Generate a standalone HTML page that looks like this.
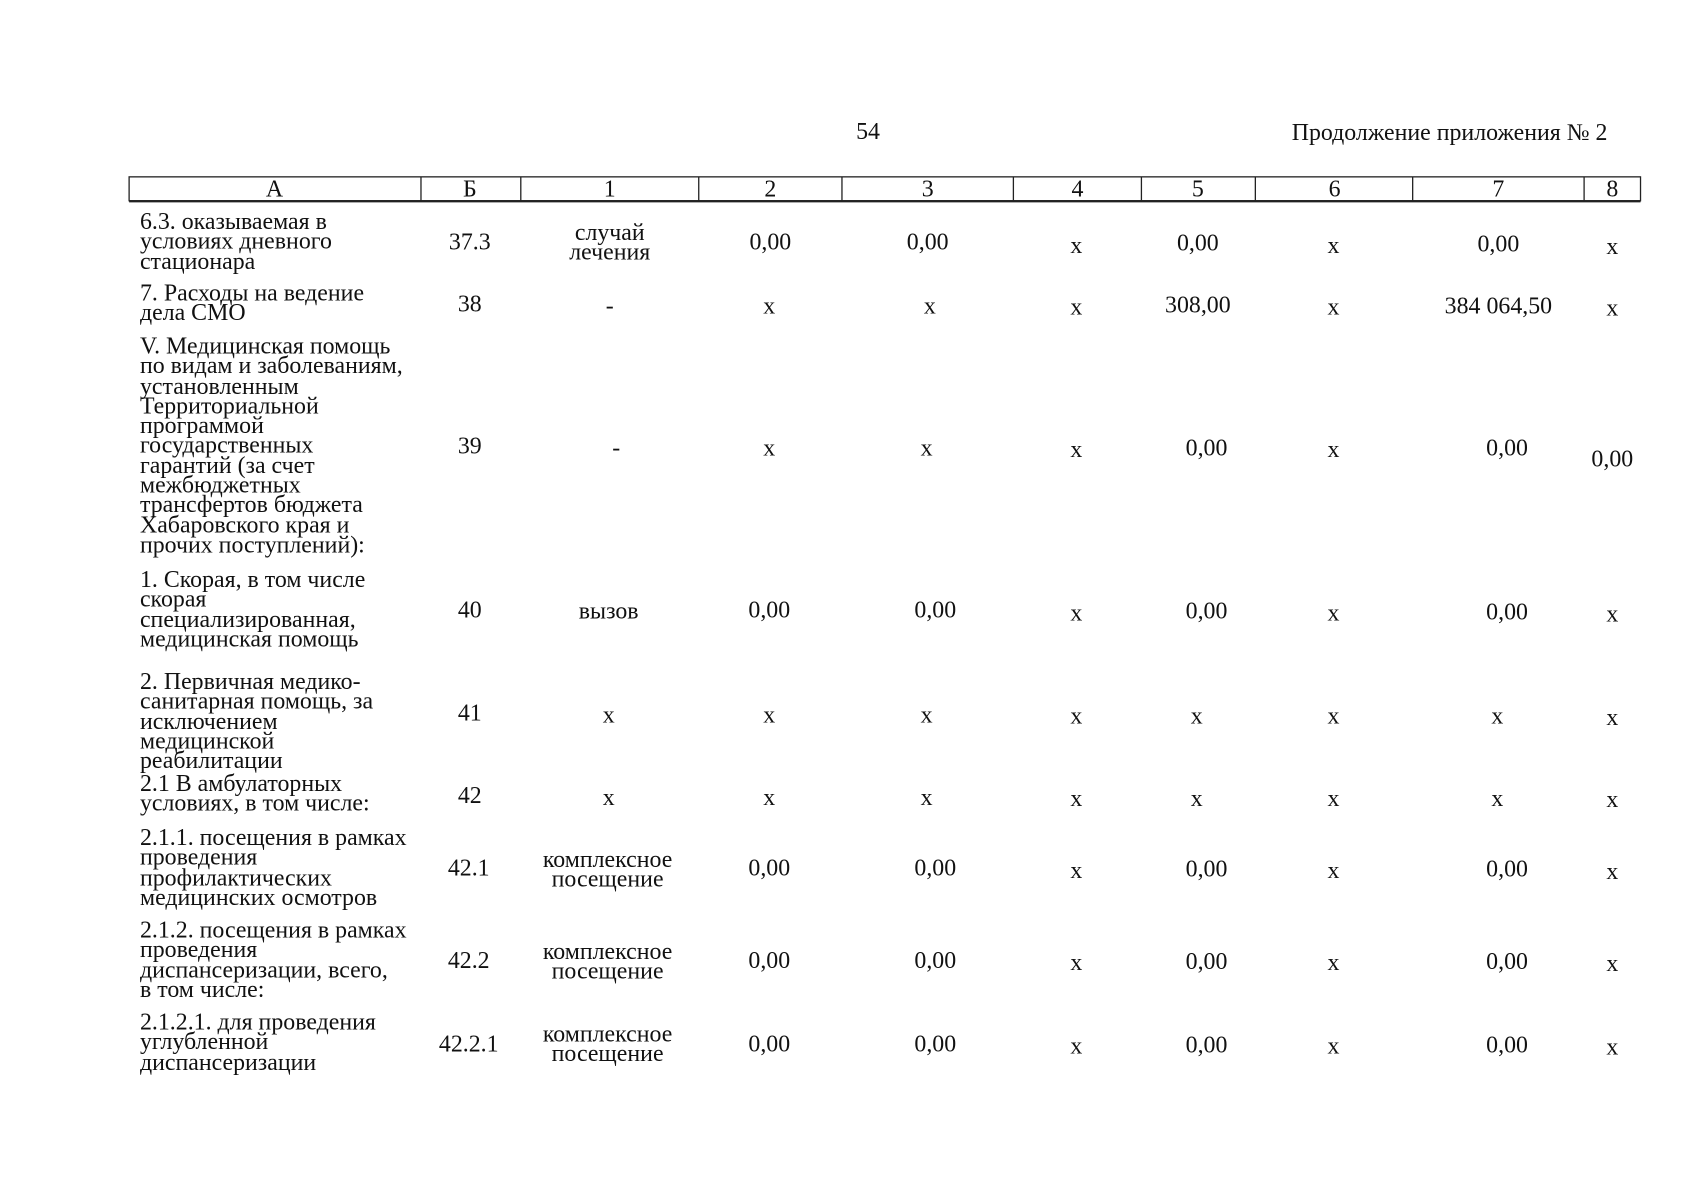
<!DOCTYPE html>
<html><head><meta charset="utf-8"><style>
html,body{margin:0;padding:0;background:#fff;width:1701px;height:1200px;overflow:hidden}
#w{position:absolute;left:0;top:0;width:1565px;height:1104px;transform:scale(1.085);transform-origin:0 0;font-family:"Liberation Serif",serif;font-size:22px;color:#111}
.c{position:absolute;white-space:nowrap;transform:translate(-50%,-50%);line-height:1}
.l{position:absolute;white-space:nowrap;left:129px;line-height:18.3px}
.cc{position:absolute;white-space:nowrap;transform:translateX(-50%);line-height:18.3px;text-align:center}
</style></head><body><div id="w">
<div class="c" style="left:800px;top:121px">54</div>
<div class="c" style="left:1336px;top:122px">Продолжение приложения № 2</div>
<svg style="position:absolute;left:0;top:0" width="1565" height="1104">
<g stroke="#222" stroke-width="1.2" fill="none">
<rect x="119" y="163" width="1393" height="22"/>
<line x1="119" y1="185.5" x2="1512" y2="185.5" stroke-width="2"/>
<line x1="388" y1="163" x2="388" y2="185"/><line x1="480" y1="163" x2="480" y2="185"/>
<line x1="644" y1="163" x2="644" y2="185"/><line x1="776" y1="163" x2="776" y2="185"/>
<line x1="934" y1="163" x2="934" y2="185"/><line x1="1052" y1="163" x2="1052" y2="185"/>
<line x1="1157" y1="163" x2="1157" y2="185"/><line x1="1302" y1="163" x2="1302" y2="185"/>
<line x1="1460" y1="163" x2="1460" y2="185"/>
</g></svg>
<div class="c" style="left:253px;top:174px">А</div>
<div class="c" style="left:433px;top:174px">Б</div>
<div class="c" style="left:562px;top:174px">1</div>
<div class="c" style="left:710px;top:174px">2</div>
<div class="c" style="left:855px;top:174px">3</div>
<div class="c" style="left:993px;top:174px">4</div>
<div class="c" style="left:1104px;top:174px">5</div>
<div class="c" style="left:1230px;top:174px">6</div>
<div class="c" style="left:1381px;top:174px">7</div>
<div class="c" style="left:1486px;top:174px">8</div>

<div class="l" style="top:195px">6.3. оказываемая в<br>условиях дневного<br>стационара</div>
<div class="c" style="left:433px;top:223px">37.3</div>
<div class="cc" style="left:562px;top:205px">случай<br>лечения</div>
<div class="c" style="left:710px;top:223px">0,00</div><div class="c" style="left:855px;top:223px">0,00</div>
<div class="c" style="left:992px;top:226px">х</div><div class="c" style="left:1104px;top:224px">0,00</div>
<div class="c" style="left:1229px;top:226px">х</div><div class="c" style="left:1381px;top:225px">0,00</div><div class="c" style="left:1486px;top:227px">х</div>

<div class="l" style="top:261px">7. Расходы на ведение<br>дела СМО</div>
<div class="c" style="left:433px;top:280px">38</div><div class="c" style="left:562px;top:282px">-</div>
<div class="c" style="left:709px;top:282px">х</div><div class="c" style="left:857px;top:282px">х</div><div class="c" style="left:992px;top:283px">х</div>
<div class="c" style="left:1104px;top:281px">308,00</div><div class="c" style="left:1229px;top:283px">х</div>
<div class="c" style="left:1381px;top:282px">384 064,50</div><div class="c" style="left:1486px;top:284px">х</div>

<div class="l" style="top:310px">V. Медицинская помощь<br>по видам и заболеваниям,<br>установленным<br>Территориальной<br>программой<br>государственных<br>гарантий (за счет<br>межбюджетных<br>трансфертов бюджета<br>Хабаровского края и<br>прочих поступлений):</div>
<div class="c" style="left:433px;top:411px">39</div><div class="c" style="left:568px;top:413px">-</div>
<div class="c" style="left:709px;top:413px">х</div><div class="c" style="left:854px;top:413px">х</div><div class="c" style="left:992px;top:414px">х</div>
<div class="c" style="left:1112px;top:413px">0,00</div><div class="c" style="left:1229px;top:414px">х</div>
<div class="c" style="left:1389px;top:413px">0,00</div><div class="c" style="left:1486px;top:423px">0,00</div>

<div class="l" style="top:525px">1. Скорая, в том числе<br>скорая<br>специализированная,<br>медицинская помощь</div>
<div class="c" style="left:433px;top:562px">40</div><div class="c" style="left:561px;top:563px">вызов</div>
<div class="c" style="left:709px;top:562px">0,00</div><div class="c" style="left:862px;top:562px">0,00</div><div class="c" style="left:992px;top:565px">х</div>
<div class="c" style="left:1112px;top:563px">0,00</div><div class="c" style="left:1229px;top:565px">х</div>
<div class="c" style="left:1389px;top:564px">0,00</div><div class="c" style="left:1486px;top:566px">х</div>

<div class="l" style="top:619px">2. Первичная медико-<br>санитарная помощь, за<br>исключением<br>медицинской<br>реабилитации</div>
<div class="c" style="left:433px;top:657px">41</div><div class="c" style="left:561px;top:659px">х</div>
<div class="c" style="left:709px;top:659px">х</div><div class="c" style="left:854px;top:659px">х</div><div class="c" style="left:992px;top:660px">х</div>
<div class="c" style="left:1103px;top:660px">х</div><div class="c" style="left:1229px;top:660px">х</div>
<div class="c" style="left:1380px;top:660px">х</div><div class="c" style="left:1486px;top:661px">х</div>

<div class="l" style="top:713px">2.1 В амбулаторных<br>условиях, в том числе:</div>
<div class="c" style="left:433px;top:733px">42</div><div class="c" style="left:561px;top:735px">х</div>
<div class="c" style="left:709px;top:735px">х</div><div class="c" style="left:854px;top:735px">х</div><div class="c" style="left:992px;top:736px">х</div>
<div class="c" style="left:1103px;top:736px">х</div><div class="c" style="left:1229px;top:736px">х</div>
<div class="c" style="left:1380px;top:736px">х</div><div class="c" style="left:1486px;top:737px">х</div>

<div class="l" style="top:763px">2.1.1. посещения в рамках<br>проведения<br>профилактических<br>медицинских осмотров</div>
<div class="c" style="left:432px;top:800px">42.1</div>
<div class="cc" style="left:560px;top:783px">комплексное<br>посещение</div>
<div class="c" style="left:709px;top:800px">0,00</div><div class="c" style="left:862px;top:800px">0,00</div><div class="c" style="left:992px;top:802px">х</div>
<div class="c" style="left:1112px;top:801px">0,00</div><div class="c" style="left:1229px;top:802px">х</div>
<div class="c" style="left:1389px;top:801px">0,00</div><div class="c" style="left:1486px;top:803px">х</div>

<div class="l" style="top:848px">2.1.2. посещения в рамках<br>проведения<br>диспансеризации, всего,<br>в том числе:</div>
<div class="c" style="left:432px;top:885px">42.2</div>
<div class="cc" style="left:560px;top:868px">комплексное<br>посещение</div>
<div class="c" style="left:709px;top:885px">0,00</div><div class="c" style="left:862px;top:885px">0,00</div><div class="c" style="left:992px;top:887px">х</div>
<div class="c" style="left:1112px;top:886px">0,00</div><div class="c" style="left:1229px;top:887px">х</div>
<div class="c" style="left:1389px;top:886px">0,00</div><div class="c" style="left:1486px;top:888px">х</div>

<div class="l" style="top:933px">2.1.2.1. для проведения<br>углубленной<br>диспансеризации</div>
<div class="c" style="left:432px;top:962px">42.2.1</div>
<div class="cc" style="left:560px;top:944px">комплексное<br>посещение</div>
<div class="c" style="left:709px;top:962px">0,00</div><div class="c" style="left:862px;top:962px">0,00</div><div class="c" style="left:992px;top:964px">х</div>
<div class="c" style="left:1112px;top:963px">0,00</div><div class="c" style="left:1229px;top:964px">х</div>
<div class="c" style="left:1389px;top:963px">0,00</div><div class="c" style="left:1486px;top:965px">х</div>
</div></body></html>
